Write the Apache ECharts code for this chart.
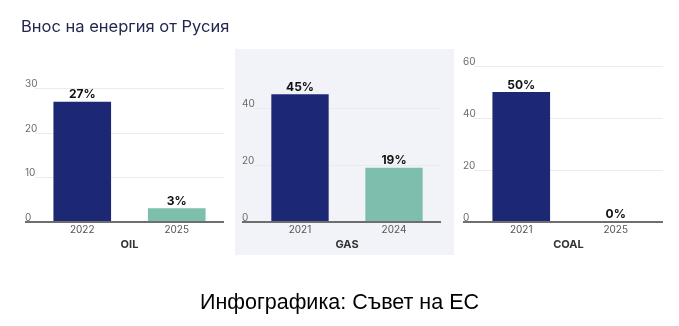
<!DOCTYPE html>
<html>
<head>
<meta charset="utf-8">
<script src="https://cdn.jsdelivr.net/npm/echarts@6/dist/echarts.min.js"></script>
<style>
html,body{margin:0;padding:0;background:#fff;}
#c{width:679px;height:326px;}
</style>
</head>
<body>
<div id="c"></div>
<script>
const titleText = 'Внос на енергия от Русия';
const footerText = 'Инфографика: Съвет на ЕС';
const panelNames = ['OIL', 'GAS', 'COAL'];
const oilYears = ['2022', '2025'];
const oilValues = [27, 3];
const gasYears = ['2021', '2024'];
const gasValues = [45, 19];
const coalYears = ['2021', '2025'];
const coalValues = [50, 0];
const oilTicks = [0, 10, 20, 30];
const gasTicks = [0, 20, 40];
const coalTicks = [0, 20, 40, 60];

const NAVY = '#1c2873';
const GREEN = '#7dbead';

const panels = [
  {name: panelNames[0], cats: oilYears, vals: oilValues, ticks: oilTicks, max: 30, interval: 10, left: 35, right: 455, top: 88.3, labelX: 25},
  {name: panelNames[1], cats: gasYears, vals: gasValues, ticks: gasTicks, max: 40 / (221.7 - 108.3) * (221.7 - 80), interval: 20, left: 253, right: 238, top: 80, labelX: 242},
  {name: panelNames[2], cats: coalYears, vals: coalValues, ticks: coalTicks, max: 60, interval: 20, left: 474, right: 16, top: 66, labelX: 463}
];
const BOTTOM = 326 - 221.7;

const chart = echarts.init(document.getElementById('c'), null, {renderer: 'canvas'});
const grids = [], xAxes = [], yAxes = [], series = [];
panels.forEach((p, i) => {
  grids.push({left: p.left, right: p.right, top: p.top, bottom: BOTTOM, containLabel: false});
  xAxes.push({
    type: 'category', gridIndex: i, data: p.cats,
    axisLine: {show: false}, axisTick: {show: false},
    axisLabel: {color: '#555', fontSize: 10, fontFamily: 'Inter', margin: 3},
    name: p.name, nameLocation: 'middle', nameGap: 17,
    nameTextStyle: {color: '#333', fontSize: 11, fontWeight: 'bold', fontFamily: 'Inter'}
  });
  yAxes.push({
    type: 'value', gridIndex: i, min: 0, max: p.max, interval: p.interval,
    axisLine: {show: false}, axisTick: {show: false},
    axisLabel: {
      color: '#6b6b6b', fontSize: 10, fontFamily: 'Inter', align: 'left', margin: p.left - p.labelX,
      verticalAlign: 'bottom', padding: [0, 0, -1, 0],
      formatter: v => p.ticks.indexOf(v) >= 0 ? String(v) : ''
    },
    splitLine: {show: true, showMaxLine: i !== 1, lineStyle: {color: '#ebebeb', width: 1}}
  });
  series.push({
    type: 'bar', xAxisIndex: i, yAxisIndex: i, barWidth: '61%',
    data: p.vals.map((v, k) => ({value: v, itemStyle: {color: k === 0 ? NAVY : GREEN}})),
    label: {show: true, position: 'top', distance: 1, formatter: d => d.value + '%', color: '#111', fontSize: 12, fontWeight: 'bold', fontFamily: 'Inter'}
  });
});

const axisLines = [[25, 224], [242, 441], [463, 663]].map(([a, b]) => ({
  type: 'line', z: 100, shape: {x1: a, y1: 222, x2: b, y2: 222}, style: {stroke: '#6e6e6e', lineWidth: 2}
}));

chart.setOption({
  animation: false,
  backgroundColor: '#ffffff',
  title: {text: titleText, left: 21, top: 19, padding: 0, textStyle: {fontFamily: 'Inter', fontSize: 16.5, fontWeight: 'normal', color: '#232750'}},
  graphic: [
    {type: 'rect', z: -10, silent: true, shape: {x: 235, y: 49, width: 219, height: 206}, style: {fill: '#f2f3f9'}},
    ...axisLines,
    {type: 'text', left: 'center', top: 292, style: {text: footerText, font: '21.5px "Liberation Sans", Arial, sans-serif', fill: '#000'}}
  ],
  grid: grids, xAxis: xAxes, yAxis: yAxes, series: series
});
</script>
</body>
</html>
